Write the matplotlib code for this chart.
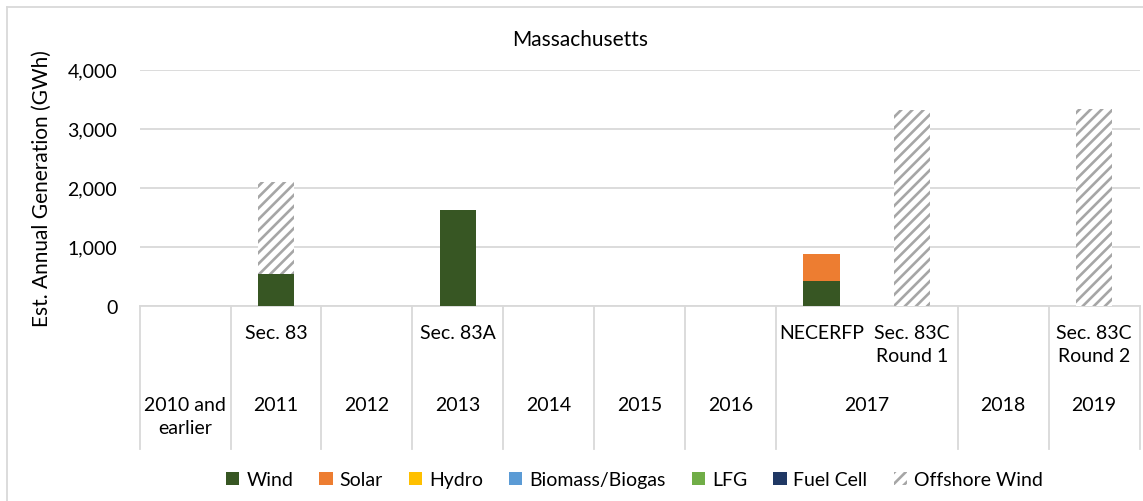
import numpy as np
import matplotlib
matplotlib.use("Agg")
import matplotlib.pyplot as plt
from matplotlib.lines import Line2D
from matplotlib.ticker import FuncFormatter

# ---------------- data ----------------
inner_labels = ["", "Sec. 83", "", "Sec. 83A", "", "", "", "NECERFP",
                "Sec. 83C\nRound 1", "", "Sec. 83C\nRound 2"]
year_labels = ["2010 and\nearlier", "2011", "2012", "2013", "2014", "2015",
               "2016", "2017", "2018", "2019"]
year_spans = [1, 1, 1, 1, 1, 1, 1, 2, 1, 1]

wind = [0, 530, 0, 1620, 0, 0, 0, 425, 0, 0, 0]
solar = [0, 0, 0, 0, 0, 0, 0, 450, 0, 0, 0]
hydro = [0, 0, 0, 0, 0, 0, 0, 0, 0, 0, 0]
biomass = [0, 0, 0, 0, 0, 0, 0, 0, 0, 0, 0]
lfg = [0, 0, 0, 0, 0, 0, 0, 0, 0, 0, 0]
fuel_cell = [0, 0, 0, 0, 0, 0, 0, 0, 0, 0, 0]
offshore = [0, 1560, 0, 0, 0, 0, 0, 0, 3315, 0, 3330]

series_names = ["Wind", "Solar", "Hydro", "Biomass/Biogas", "LFG", "Fuel Cell", "Offshore Wind"]
series_vals = [wind, solar, hydro, biomass, lfg, fuel_cell, offshore]
series_colors = ["#375623", "#ED7D31", "#FFC000", "#5B9BD5", "#70AD47", "#203864", "white"]

title = "Massachusetts"
ylabel = "Est. Annual Generation (GWh)"
yticks = [0, 1000, 2000, 3000, 4000]

# ---------------- style ----------------
plt.rcParams['font.family'] = ['Lato', 'DejaVu Sans']
plt.rcParams['hatch.linewidth'] = 1.9
FS = 14
GRID = "#D9D9D9"
TXT = "#000000"

W, H = 1143, 502
fig = plt.figure(figsize=(W / 100, H / 100), dpi=100)
x0p, x1p = 139.6, 1139.5
y0p, y1p = 306.7, 70.7
ax = fig.add_axes([x0p / W, 1 - y0p / H, (x1p - x0p) / W, (y0p - y1p) / H])

x = np.arange(len(inner_labels))
bottom = np.zeros(len(x))
for name, vals, col in zip(series_names, series_vals, series_colors):
    vals = np.array(vals, dtype=float)
    if name == "Offshore Wind":
        ax.bar(x, vals, 0.4, bottom=bottom, color="white", edgecolor="#A6A6A6",
               hatch="///", linewidth=0, label=name, zorder=3)
    else:
        ax.bar(x, vals, 0.4, bottom=bottom, color=col, linewidth=0, label=name, zorder=3)
    bottom += vals

ax.set_xlim(-0.5, len(x) - 0.5)
ax.set_ylim(0, 4000)
ax.set_yticks(yticks)
ax.yaxis.set_major_formatter(FuncFormatter(lambda v, p: f"{int(v):,}"))
ax.tick_params(axis='y', length=0, pad=16, labelsize=FS, labelcolor=TXT)
ax.tick_params(axis='x', length=0, labelbottom=False)
ax.yaxis.grid(True, color=GRID, linewidth=1.3, zorder=0)
for s in ["top", "right", "left"]:
    ax.spines[s].set_visible(False)
ax.spines["bottom"].set_color(GRID)
ax.spines["bottom"].set_linewidth(1.3)
ax.set_axisbelow(True)


def fy(py):
    return (y0p - py) / (y0p - y1p)


trans = ax.get_xaxis_transform()
# separators
group_bounds = np.concatenate([[0], np.cumsum(year_spans)])
for b in range(len(x) + 1):
    if b in group_bounds:
        ax.plot([b - 0.5, b - 0.5], [0, fy(450)], transform=trans, color=GRID,
                linewidth=1.3, clip_on=False)

# inner labels
for i, lab in enumerate(inner_labels):
    if lab:
        ax.text(i, fy(325), lab, transform=trans, ha="center", va="top",
                fontsize=FS, color=TXT, linespacing=1.45, multialignment="center")

# year labels
for j, lab in enumerate(year_labels):
    c = (group_bounds[j] + group_bounds[j + 1] - 1) / 2
    ax.text(c, fy(397), lab, transform=trans, ha="center", va="top",
            fontsize=FS, color=TXT, linespacing=1.45, multialignment="center")

ax.set_ylabel(ylabel, fontsize=15, color=TXT)
ax.yaxis.set_label_coords((52 - x0p) / (x1p - x0p), 0.5)

fig.text(580 / W, 1 - 40 / H, title, ha="center", va="center", fontsize=15, color=TXT)

# legend
handles, labels = ax.get_legend_handles_labels()
leg = fig.legend(handles, labels, loc="center", ncol=7,
                 bbox_to_anchor=(634.5 / W, 1 - 481 / H), frameon=False,
                 fontsize=FS, handlelength=0.68, handleheight=0.68,
                 handletextpad=0.35, columnspacing=1.35, borderaxespad=0)

# outer chart border (left and top)
fig.add_artist(Line2D([7.3 / W, 7.3 / W], [0, 1 - 8.3 / H], color=GRID, linewidth=1.3,
                      transform=fig.transFigure))
fig.add_artist(Line2D([7.3 / W, 1], [1 - 8.3 / H, 1 - 8.3 / H], color=GRID, linewidth=1.3,
                      transform=fig.transFigure))

fig.savefig("out.png", dpi=100, facecolor="white")
